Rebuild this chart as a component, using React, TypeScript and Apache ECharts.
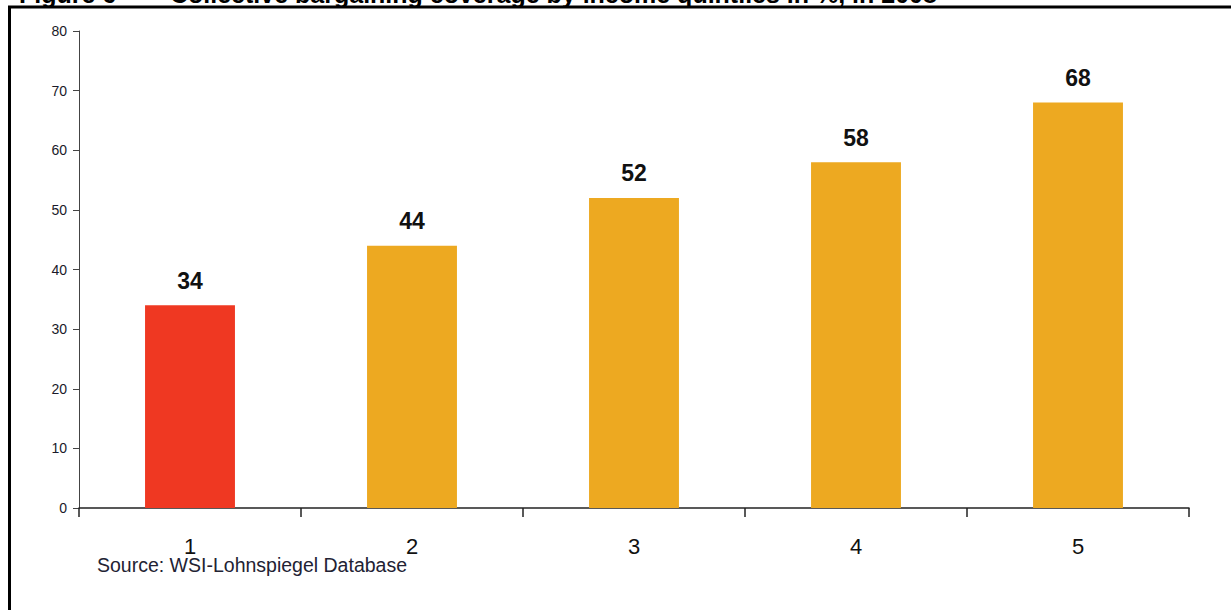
import React, { useEffect, useRef } from "react";
import * as echarts from "echarts";

// Collective bargaining coverage by income quintile (%), 2008
const quintiles = ["1", "2", "3", "4", "5"];
const coverage = [34, 44, 52, 58, 68];
const barColors = ["#EF3822", "#EDA921", "#EDA921", "#EDA921", "#EDA921"];
const yTicks = { min: 0, max: 80, interval: 10 };

const titleText = "Figure 6";
const titleMain = "Collective bargaining coverage by income quintiles in %, in 2008";
const sourceText = "Source: WSI-Lohnspiegel Database";

const FONT = "'Liberation Sans', Arial, Helvetica, sans-serif";

export default function App() {
  const ref = useRef<HTMLDivElement>(null);

  useEffect(() => {
    if (!ref.current) return;
    const chart = echarts.init(ref.current, null, { renderer: "svg" });
    chart.setOption({
      animation: false,
      backgroundColor: "#ffffff",
      grid: { left: 79, right: 42, top: 31, bottom: 102, containLabel: false },
      xAxis: {
        type: "category",
        data: quintiles,
        boundaryGap: true,
        axisLine: { show: true, lineStyle: { color: "#222222", width: 1.5 } },
        axisTick: {
          show: true,
          alignWithLabel: false,
          length: 9,
          lineStyle: { color: "#222222", width: 1.5 },
        },
        axisLabel: {
          margin: 27,
          fontFamily: FONT,
          fontSize: 22,
          color: "#111111",
        },
        splitLine: { show: false },
      },
      yAxis: {
        type: "value",
        min: yTicks.min,
        max: yTicks.max,
        interval: yTicks.interval,
        axisLine: { show: true, lineStyle: { color: "#444444", width: 1 } },
        axisTick: { show: true, length: 6, lineStyle: { color: "#444444", width: 1 } },
        axisLabel: {
          margin: 12,
          fontFamily: FONT,
          fontSize: 14,
          color: "#1a1a2a",
        },
        splitLine: { show: false },
      },
      series: [
        {
          type: "bar",
          barWidth: "40.5%",
          data: coverage.map((v, i) => ({ value: v, itemStyle: { color: barColors[i] } })),
          label: {
            show: true,
            position: "top",
            distance: 13,
            fontFamily: FONT,
            fontSize: 23,
            fontWeight: "bold",
            color: "#111111",
          },
        },
      ],
      graphic: [
        // frame lines
        {
          type: "line",
          shape: { x1: 8, y1: 7, x2: 1231, y2: 7 },
          style: { stroke: "#000000", lineWidth: 3 },
          silent: true,
        },
        {
          type: "line",
          shape: { x1: 9.5, y1: 6, x2: 9.5, y2: 610 },
          style: { stroke: "#000000", lineWidth: 3 },
          silent: true,
        },
        // heading, clipped by the top edge
        {
          type: "text",
          x: 19,
          y: -6,
          style: {
            text: titleText,
            fontFamily: FONT,
            fontSize: 25,
            fontWeight: "bold",
            fill: "#000000",
            verticalAlign: "middle",
          },
          silent: true,
        },
        {
          type: "text",
          x: 170,
          y: -6,
          style: {
            text: titleMain,
            fontFamily: FONT,
            fontSize: 25,
            fontWeight: "bold",
            fill: "#000000",
            verticalAlign: "middle",
          },
          silent: true,
        },
        {
          type: "text",
          x: 97,
          y: 565,
          style: {
            text: sourceText,
            fontFamily: FONT,
            fontSize: 19.5,
            fill: "#222233",
            verticalAlign: "middle",
          },
          silent: true,
        },
      ],
    });
    return () => chart.dispose();
  }, []);

  return (
    <div
      ref={ref}
      style={{ position: "fixed", left: 0, top: 0, width: 1231, height: 610 }}
    />
  );
}
